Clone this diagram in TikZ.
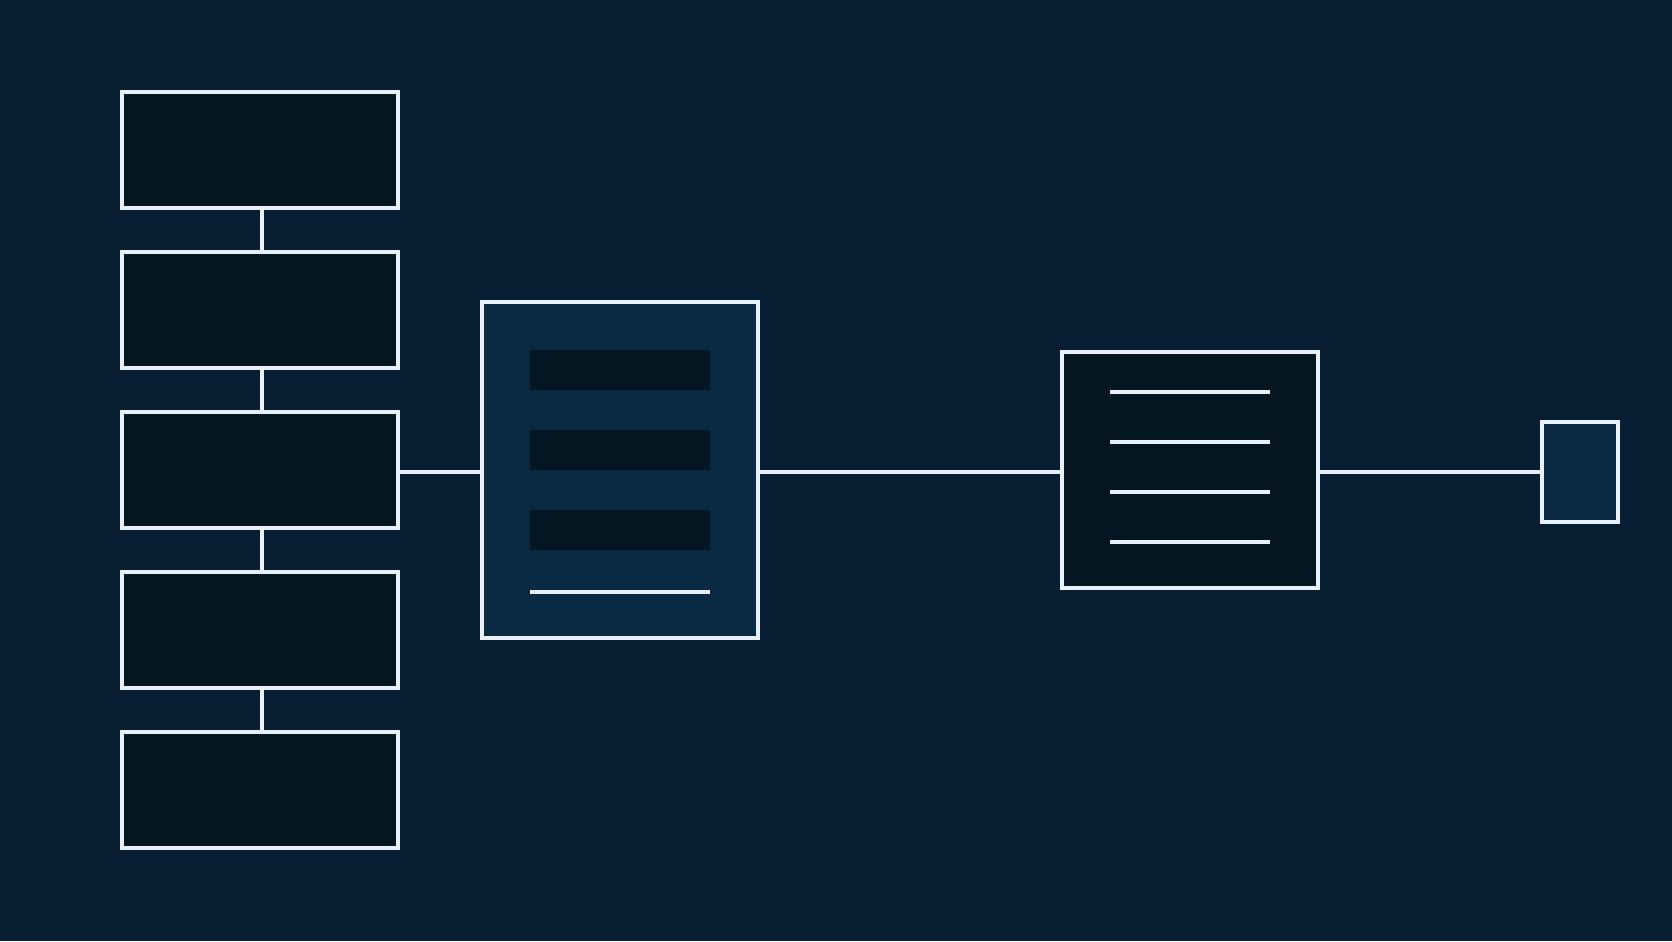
\documentclass[tikz,border=0pt]{standalone}
\usetikzlibrary{positioning}
\definecolor{bgblue}{HTML}{071E33}
\definecolor{darkfill}{HTML}{031621}
\definecolor{panelblue}{HTML}{0A2A44}
\definecolor{edgewhite}{HTML}{E8F1FA}
\tikzset{
 boxbase/.style={draw=edgewhite, line width=0.04cm, inner sep=0pt, outer sep=0pt},
 stagebox/.style={boxbase, fill=darkfill, minimum width=2.76cm, minimum height=1.16cm},
 panelbox/.style={boxbase, fill=panelblue, minimum width=2.76cm, minimum height=3.36cm},
 listbox/.style={boxbase, fill=darkfill, minimum width=2.56cm, minimum height=2.36cm},
 endbox/.style={boxbase, fill=panelblue, minimum width=0.76cm, minimum height=1.00cm},
 link/.style={edgewhite, line width=0.035cm},
 rule/.style={edgewhite, line width=0.04cm}
}
\begin{document}
\begin{tikzpicture}[x=0.01cm, y=-0.01cm]
\fill[bgblue] (0,0) rectangle (1672,941);
% column of stages
\foreach \i in {1,...,5} {
 \node[stagebox] (s\i) at (260,{150+160*(\i-1)}) {};
 }
\foreach \i/\j in {1/2,2/3,3/4,4/5} {
 \draw[link] ([xshift=0.02cm]s\i.south)--([xshift=0.02cm]s\j.north);
 }
% middle panel
\node[panelbox] (mid) at (620,470) {};
\foreach \y in {370,450,530} {
 \fill[darkfill] (530,{\y-20}) rectangle (710,{\y+20});
 }
\draw[rule] (530,592)--(710,592);
% list panel
\node[listbox] (lst) at (1190,470) {};
\foreach \y in {392,442,492,542} {
 \draw[rule] (1110,\y)--(1270,\y);
 }
% end box
\node[endbox] (out) at (1580,472) {};
\draw[link] (s3.east |- out.west)--(mid.west |- out.west);
\draw[link] (mid.east |- out.west)--(lst.west |- out.west);
\draw[link] (lst.east |- out.west)--(out.west);
\end{tikzpicture}
\end{document}
